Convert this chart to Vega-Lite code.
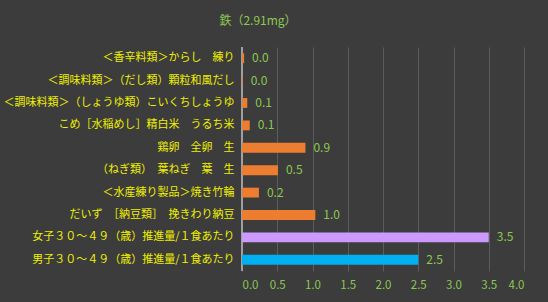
{
  "$schema": "https://vega.github.io/schema/vega-lite/v6.json",
  "width": 282,
  "height": 224,
  "autosize": {"type": "none"},
  "padding": {"left": 242, "top": 47, "right": 24, "bottom": 31},
  "background": "#3c3c3c",
  "config": {
    "font": "Noto Sans CJK JP",
    "view": {"stroke": null}
  },
  "title": {
    "text": "鉄（2.91mg）",
    "color": "#8cc850",
    "fontSize": 12,
    "fontWeight": "normal",
    "font": "Noto Sans CJK JP",
    "anchor": "middle",
    "frame": "group",
    "dx": -125,
    "offset": 19
  },
  "data": {
    "values": [
      {"item": "＜香辛料類＞からし　練り", "value": 0.03, "group": "food"},
      {"item": "＜調味料類＞（だし類）顆粒和風だし", "value": 0.01, "group": "food"},
      {"item": "＜調味料類＞（しょうゆ類）こいくちしょうゆ", "value": 0.075, "group": "food"},
      {"item": "こめ［水稲めし］精白米　うるち米", "value": 0.11, "group": "food"},
      {"item": "鶏卵　全卵　生", "value": 0.9, "group": "food"},
      {"item": "（ねぎ類）　葉ねぎ　葉　生", "value": 0.51, "group": "food"},
      {"item": "＜水産練り製品＞焼き竹輪", "value": 0.24, "group": "food"},
      {"item": "だいず　［納豆類］　挽きわり納豆", "value": 1.04, "group": "food"},
      {"item": "女子３０～４９（歳）推進量/１食あたり", "value": 3.5, "group": "female"},
      {"item": "男子３０～４９（歳）推進量/１食あたり", "value": 2.5, "group": "male"}
    ]
  },
  "encoding": {
    "y": {
      "field": "item",
      "type": "nominal",
      "sort": null,
      "scale": {"paddingInner": 0.56, "paddingOuter": 0.28},
      "axis": {
        "title": null,
        "domain": false,
        "ticks": false,
        "labelColor": "#f0f000",
        "labelFontSize": 11,
        "labelPadding": 8,
        "labelLimit": 300
      }
    },
    "x": {
      "field": "value",
      "type": "quantitative",
      "scale": {"domain": [0, 4]},
      "axis": {
        "title": null,
        "values": [0, 0.5, 1, 1.5, 2, 2.5, 3, 3.5, 4],
        "format": ".1f",
        "labelColor": "#8cc850",
        "labelFontSize": 11.5,
        "labelPadding": 8,
        "domain": false,
        "ticks": false,
        "gridColor": "#5c5c5c",
        "gridWidth": 1
      }
    }
  },
  "layer": [
    {
      "mark": {"type": "rule", "color": "#a0a0a0"},
      "encoding": {"x": {"datum": 0}, "y": null}
    },
    {
      "mark": {"type": "bar"},
      "encoding": {
        "color": {
          "field": "group",
          "type": "nominal",
          "scale": {"domain": ["food", "female", "male"], "range": ["#ed7d31", "#cc99ff", "#00b0f0"]},
          "legend": null
        }
      }
    },
    {
      "mark": {"type": "text", "align": "left", "dx": 8, "fontSize": 12, "color": "#8cc850"},
      "encoding": {"text": {"field": "value", "type": "quantitative", "format": ".1f"}}
    }
  ]
}
